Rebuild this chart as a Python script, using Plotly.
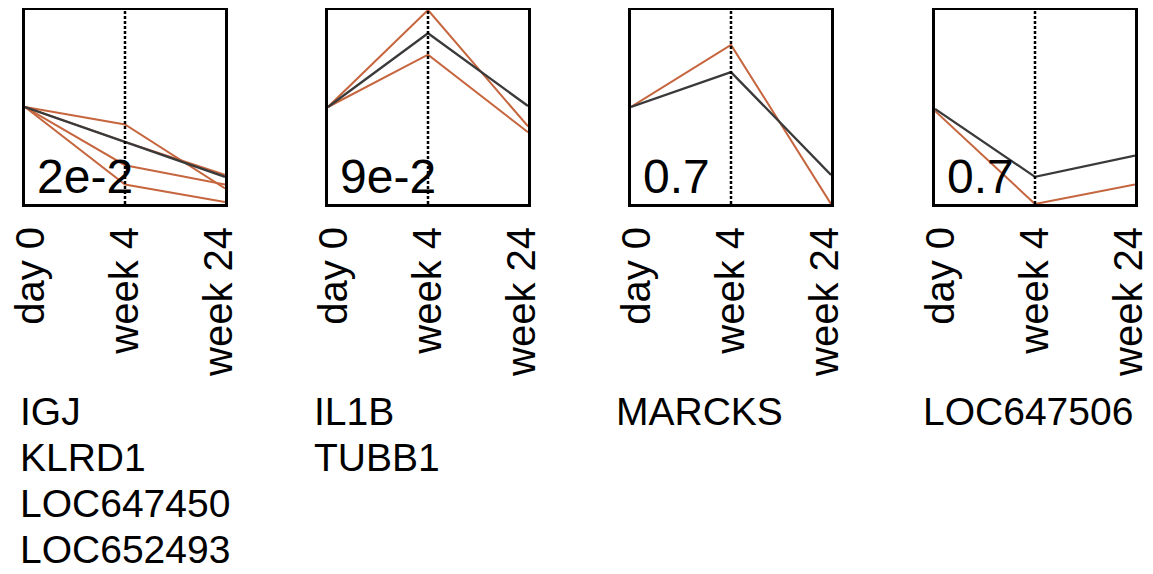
import plotly.graph_objects as go

# page body adds an 8px margin; compensate so the figure lands where the reference does
OFF = 8
W, H = 1153 - OFF, 574 - OFF

timepoints = ["day 0", "week 4", "week 24"]
p_labels = ["2e-2", "9e-2", "0.7", "0.7"]
gene_groups = [
    ["IGJ", "KLRD1", "LOC647450", "LOC652493"],
    ["IL1B", "TUBB1"],
    ["MARCKS"],
    ["LOC647506"],
]

# normalised expression profiles (gene lines, orange) per panel
panel1_genes = [
    [0.50, 0.41, 0.08],
    [0.50, 0.32, 0.15],
    [0.50, 0.20, 0.10],
    [0.50, 0.10, 0.01],
]
panel2_genes = [
    [0.50, 1.00, 0.40],
    [0.50, 0.77, 0.37],
]
panel3_genes = [
    [0.50, 0.82, 0.00],
]
panel4_genes = [
    [0.48, 0.00, 0.10],
]
gene_profiles = [panel1_genes, panel2_genes, panel3_genes, panel4_genes]

# cluster mean profiles (dark line)
mean_profiles = [
    [0.50, 0.32, 0.14],
    [0.50, 0.88, 0.505],
    [0.50, 0.68, 0.15],
    [0.49, 0.14, 0.25],
]

ORANGE = "#c6663f"
DARK = "#3a3a3a"
FONT = "Liberation Sans, Arial"

# panel boxes in reference pixels
panel_left = [25, 328, 631, 935]
panel_w = 200
box_top, box_bot = 10, 204
label_left = [18, 312, 614, 921]
LABEL_PAD = 0.065  # tick labels sit slightly inside the box edges


def px_x(p):
    return (p - OFF) / W


def px_y(p):
    return 1 - (p - OFF) / H


fig = go.Figure()
xs = [0, 1, 2]

for i in range(4):
    ax = "" if i == 0 else str(i + 1)
    lab_ax = str(i + 5)
    xa, ya = "x" + ax, "y" + ax
    for prof in gene_profiles[i]:
        fig.add_trace(go.Scatter(x=xs, y=prof, mode="lines", xaxis=xa, yaxis=ya,
                                 line=dict(color=ORANGE, width=2), showlegend=False,
                                 hoverinfo="skip"))
    fig.add_trace(go.Scatter(x=xs, y=mean_profiles[i], mode="lines", xaxis=xa, yaxis=ya,
                             line=dict(color=DARK, width=2.3), showlegend=False,
                             hoverinfo="skip"))
    # invisible carrier trace so the label axis is drawn
    fig.add_trace(go.Scatter(x=xs, y=mean_profiles[i], mode="markers",
                             xaxis="x" + lab_ax, yaxis=ya,
                             marker=dict(opacity=0, size=1), showlegend=False,
                             hoverinfo="skip"))
    # dotted marker at week 4
    fig.add_shape(type="line", xref=xa, yref=ya + " domain", x0=1, x1=1, y0=0, y1=1,
                  line=dict(color="black", width=2.5, dash="3px,2px"))

    dom = [px_x(panel_left[i]), px_x(panel_left[i] + panel_w)]
    fig.layout["xaxis" + ax] = dict(
        domain=dom, range=[0, 2], showticklabels=False,
        ticks="", showgrid=False, zeroline=False,
        showline=True, mirror=True, linecolor="black", linewidth=3,
        anchor=ya, fixedrange=True, automargin=False,
    )
    # label axis: same domain, slightly padded range so labels sit inward
    fig.layout["xaxis" + lab_ax] = dict(
        domain=dom, range=[-LABEL_PAD, 2 + LABEL_PAD], overlaying=xa,
        tickvals=xs, ticktext=timepoints, tickangle=-90, ticks="",
        showgrid=False, zeroline=False, showline=False,
        tickfont=dict(family=FONT, size=40, color="black"),
        ticklabelstandoff=14, ticklabeloverflow="allow",
        anchor=ya, side="bottom", fixedrange=True, automargin=False,
    )
    fig.layout["yaxis" + ax] = dict(
        domain=[px_y(box_bot), px_y(box_top)], range=[0, 1],
        showticklabels=False, ticks="", showgrid=False, zeroline=False,
        showline=True, mirror=True, linecolor="black", linewidth=3,
        anchor=xa, fixedrange=True, automargin=False,
    )

    # p-value label inside box
    fig.add_annotation(text=p_labels[i], xref="paper", yref="paper",
                       x=px_x(panel_left[i] + 10), y=px_y(176),
                       xanchor="left", yanchor="middle", showarrow=False,
                       font=dict(family=FONT, size=48, color="black"))

    # gene names below
    for j, g in enumerate(gene_groups[i]):
        fig.add_annotation(text=g, xref="paper", yref="paper",
                           x=px_x(label_left[i]), y=px_y(411 + j * 46),
                           xanchor="left", yanchor="middle", showarrow=False,
                           font=dict(family=FONT, size=39, color="black"))

fig.update_layout(
    width=W, height=H, margin=dict(l=0, r=0, t=0, b=0, autoexpand=False),
    paper_bgcolor="white", plot_bgcolor="white", showlegend=False,
)

fig.write_html("out.html")
